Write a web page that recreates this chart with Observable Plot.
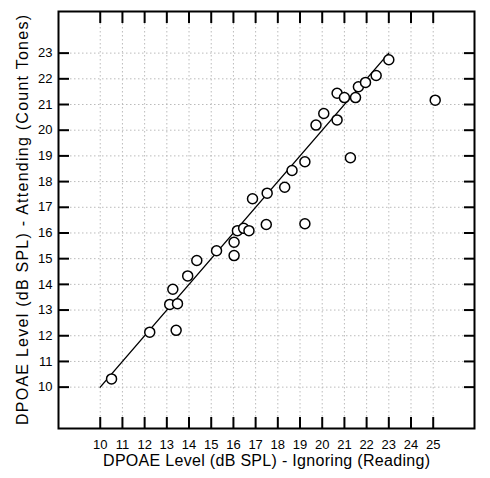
<!DOCTYPE html>
<html>
<head>
<meta charset="utf-8">
<script src="https://cdn.jsdelivr.net/npm/d3@7"></script>
<script src="https://cdn.jsdelivr.net/npm/@observablehq/plot@0.6"></script>
<style>
  html, body { margin: 0; padding: 0; background: #fff; }
  #chart svg { display: block; }
</style>
</head>
<body>
<div id="chart"></div>
<script>
// Data
const ignoring = [10.51, 12.23, 13.13, 13.27, 13.48, 13.42, 13.94, 14.35, 15.24, 16.03, 16.03,
  16.18, 16.46, 16.70, 16.86, 17.52, 17.48, 18.31, 18.64, 19.22, 19.22, 19.72, 20.07, 20.67,
  20.67, 21.00, 21.27, 21.50, 21.63, 21.95, 22.43, 23.00, 25.09];
const attending = [10.32, 12.14, 13.22, 13.81, 13.25, 12.21, 14.33, 14.93, 15.31, 15.64, 15.12,
  16.09, 16.18, 16.09, 17.33, 17.55, 16.33, 17.78, 18.43, 18.77, 16.36, 20.20, 20.65, 21.44,
  20.40, 21.27, 18.93, 21.27, 21.69, 21.86, 22.13, 22.74, 21.17];
const lineX = [10, 23];
const lineY = [10, 23];
const xTicks = [10, 11, 12, 13, 14, 15, 16, 17, 18, 19, 20, 21, 22, 23, 24, 25];
const yTicks = [10, 11, 12, 13, 14, 15, 16, 17, 18, 19, 20, 21, 22, 23];
const xTitle = "DPOAE Level (dB SPL) - Ignoring (Reading)";
const yTitle = "DPOAE Level (dB SPL) - Attending (Count Tones)";

const points = ignoring.map((x, i) => ({x, y: attending[i]}));
const fitLine = lineX.map((x, i) => ({x, y: lineY[i]}));

const font = "'Liberation Sans', Arial, sans-serif";
const gridStyle = {stroke: "#bbb", strokeOpacity: 1, strokeDasharray: "1.5,2.5", strokeWidth: 1};

const chart = Plot.plot({
  width: 490,
  height: 478,
  marginLeft: 58,
  marginRight: 16,
  marginTop: 11,
  marginBottom: 50,
  style: {fontFamily: font, color: "#000", background: "#fff"},
  x: {domain: [8.12, 26.86]},
  y: {domain: [8.39, 24.62]},
  marks: [
    Plot.gridX(xTicks, gridStyle),
    Plot.gridY(yTicks, gridStyle),
    Plot.axisX(xTicks, {anchor: "bottom", tickSize: -11, strokeWidth: 2, tickFormat: () => "", label: null}),
    Plot.axisX(xTicks, {anchor: "bottom", tickSize: 0, tickPadding: 11, fontSize: 13, label: null}),
    Plot.axisX(xTicks, {anchor: "top", tickSize: -11, strokeWidth: 2, tickFormat: () => "", label: null}),
    Plot.axisY(yTicks, {anchor: "left", tickSize: -11, strokeWidth: 2, tickFormat: () => "", label: null}),
    Plot.axisY(yTicks, {anchor: "left", tickSize: 0, tickPadding: 6, fontSize: 13, label: null}),
    Plot.axisY(yTicks, {anchor: "right", tickSize: -11, strokeWidth: 2, tickFormat: () => "", label: null}),
    Plot.frame({stroke: "#000", strokeWidth: 2}),
    Plot.line(fitLine, {x: "x", y: "y", stroke: "#000", strokeWidth: 1.4}),
    Plot.dot(points, {x: "x", y: "y", r: 5, fill: "#fff", stroke: "#000", strokeWidth: 1.5}),
    Plot.text([xTitle], {frameAnchor: "bottom", dy: 37, fontSize: 16, fill: "#000", className: "xtitle"}),
    Plot.text([yTitle], {frameAnchor: "left", dx: -36, rotate: -90, textAnchor: "middle", fontSize: 16, fill: "#000", className: "ytitle"})
  ]
});
// stretch the titles to the reference's widths
d3.select(chart).selectAll(".xtitle text").attr("textLength", 327).attr("lengthAdjust", "spacing");
d3.select(chart).selectAll(".ytitle text").attr("textLength", 410).attr("lengthAdjust", "spacing");
document.getElementById("chart").appendChild(chart);
</script>
</body>
</html>
